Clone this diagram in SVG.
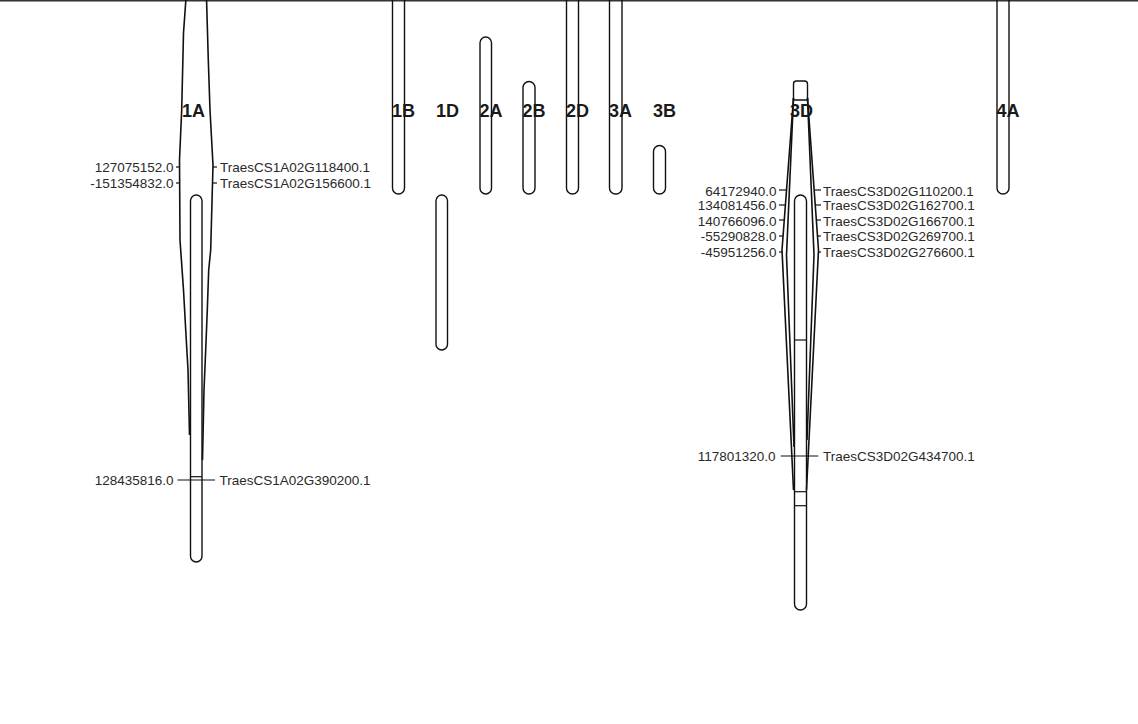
<svg xmlns="http://www.w3.org/2000/svg" width="1138" height="724" viewBox="0 0 1138 724">
<style>
.chr{fill:none;stroke:#111;stroke-width:1.4}
.lk{fill:none;stroke:#111;stroke-width:1.6;stroke-linejoin:round}
.mk{fill:none;stroke:#111;stroke-width:1.2}
.lab{font-family:"Liberation Sans",Arial,sans-serif;font-weight:bold;font-size:18px;fill:#1a1a1a}
.t{font-family:"Liberation Sans",Arial,sans-serif;font-size:13.5px;fill:#2a2a2a}
.r{text-anchor:end}
</style>
<rect x="0" y="0" width="1138" height="724" fill="#fff"/>
<line x1="0" y1="0.8" x2="1138" y2="0.8" stroke="#333" stroke-width="1.6"/>

<g id="links">
  <polyline class="lk" points="186,-2 183.5,33 181.7,110 179.5,160 180,240 183.5,290 186,335 188,370 189.5,435"/>
  <polyline class="lk" points="206.5,-2 208.3,60 210,110 213,165 211.5,220 210.7,250 208.7,270 207.3,310 205.7,350 204,390 202.5,460"/>
  <polyline class="lk" points="793.5,98 782,250 793.5,490"/>
  <polyline class="lk" points="793.5,98 786.5,255 794,447"/>
  <polyline class="lk" points="807.5,98 818.5,250 806.5,490"/>
  <polyline class="lk" points="807.5,98 814,255 807,440"/>
  <line class="mk" x1="176" y1="167" x2="180" y2="167"/>
  <line class="mk" x1="176" y1="183" x2="180" y2="183"/>
  <line class="mk" x1="213" y1="167" x2="217" y2="167"/>
  <line class="mk" x1="212" y1="183" x2="217" y2="183"/>
  <line class="mk" x1="177.5" y1="480" x2="215" y2="480"/>
  <line class="mk" x1="190.5" y1="476.7" x2="202" y2="476.7"/>
  <line class="mk" x1="779" y1="190" x2="786" y2="190"/>
  <line class="mk" x1="779" y1="205" x2="785" y2="205"/>
  <line class="mk" x1="779" y1="220" x2="784" y2="220"/>
  <line class="mk" x1="779" y1="236" x2="783" y2="236"/>
  <line class="mk" x1="779" y1="252" x2="783" y2="252"/>
  <line class="mk" x1="815" y1="190" x2="821" y2="190"/>
  <line class="mk" x1="816" y1="205" x2="821" y2="205"/>
  <line class="mk" x1="817" y1="220" x2="821" y2="220"/>
  <line class="mk" x1="818" y1="236" x2="821" y2="236"/>
  <line class="mk" x1="818" y1="252" x2="821" y2="252"/>
  <line class="mk" x1="780.7" y1="456" x2="818.3" y2="456"/>
</g>

<g id="chr1A">
  <rect class="chr" x="190.5" y="195" width="11.5" height="367" rx="5.8"/>
  <text class="lab" x="182" y="117">1A</text>
  <text class="t r" x="173.5" y="171.5">127075152.0</text>
  <text class="t r" x="173.5" y="187.5">-151354832.0</text>
  <text class="t" x="220" y="171.5">TraesCS1A02G118400.1</text>
  <text class="t" x="220" y="187.5">TraesCS1A02G156600.1</text>
  <text class="t r" x="173.5" y="485">128435816.0</text>
  <text class="t" x="219.5" y="485">TraesCS1A02G390200.1</text>
</g>
<g id="chr1B">
  <rect class="chr" x="392.5" y="-40" width="12" height="234" rx="6"/>
  <text class="lab" x="392" y="117">1B</text>
</g>
<g id="chr1D">
  <rect class="chr" x="436" y="195" width="11.5" height="155" rx="5.8"/>
  <text class="lab" x="436" y="117">1D</text>
</g>
<g id="chr2A">
  <rect class="chr" x="480" y="37" width="11.5" height="157" rx="5.8"/>
  <text class="lab" x="479.5" y="117">2A</text>
</g>
<g id="chr2B">
  <rect class="chr" x="523" y="81.5" width="12" height="112.5" rx="6"/>
  <text class="lab" x="522.5" y="117">2B</text>
</g>
<g id="chr2D">
  <rect class="chr" x="566.5" y="-40" width="12" height="234" rx="6"/>
  <text class="lab" x="566" y="117">2D</text>
</g>
<g id="chr3A">
  <rect class="chr" x="609.5" y="-40" width="12.5" height="234" rx="6"/>
  <text class="lab" x="609" y="117">3A</text>
</g>
<g id="chr3B">
  <rect class="chr" x="653.5" y="145.5" width="12" height="48.5" rx="6"/>
  <text class="lab" x="653" y="117">3B</text>
</g>
<g id="chr3D">
  <path class="chr" d="M793.5,100 V84 Q793.5,81 796.5,81 H804.5 Q807.5,81 807.5,84 V100 Z"/>
  <rect class="chr" x="794.5" y="195" width="12" height="415" rx="6"/>
  <line class="mk" x1="794.5" y1="340" x2="806.5" y2="340"/>
  <line class="mk" x1="794.5" y1="491.7" x2="806.5" y2="491.7"/>
  <line class="mk" x1="794.5" y1="505.7" x2="806.5" y2="505.7"/>
  <text class="lab" x="790" y="117">3D</text>
  <text class="t r" x="776.5" y="195.5">64172940.0</text>
  <text class="t r" x="776.5" y="210">134081456.0</text>
  <text class="t r" x="776.5" y="225.5">140766096.0</text>
  <text class="t r" x="776.5" y="240.5">-55290828.0</text>
  <text class="t r" x="776.5" y="256.5">-45951256.0</text>
  <text class="t" x="823" y="195.5">TraesCS3D02G110200.1</text>
  <text class="t" x="823" y="210">TraesCS3D02G162700.1</text>
  <text class="t" x="823" y="225.5">TraesCS3D02G166700.1</text>
  <text class="t" x="823" y="240.5">TraesCS3D02G269700.1</text>
  <text class="t" x="823" y="256.5">TraesCS3D02G276600.1</text>
  <text class="t r" x="775.5" y="461">117801320.0</text>
  <text class="t" x="823" y="461">TraesCS3D02G434700.1</text>
</g>
<g id="chr4A">
  <rect class="chr" x="997" y="-40" width="12" height="234" rx="6"/>
  <text class="lab" x="996.5" y="117">4A</text>
</g>
</svg>
